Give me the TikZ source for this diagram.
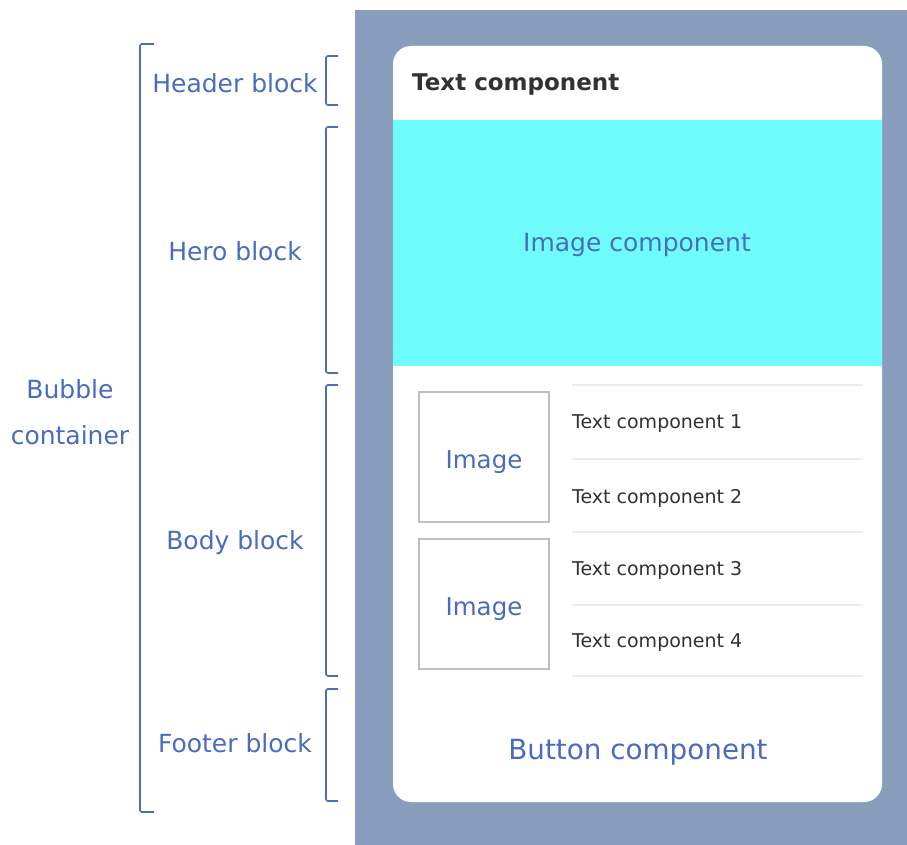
\documentclass[tikz,border=0pt]{standalone}
\usepackage{fontspec}
\setmainfont{DejaVu Sans}
\usetikzlibrary{positioning}
\definecolor{labelblue}{RGB}{74,108,188}
\definecolor{framegray}{RGB}{137,157,189}
\definecolor{herocyan}{RGB}{111,252,252}
\definecolor{boxgray}{RGB}{190,190,190}
\definecolor{rulegray}{RGB}{236,236,236}
\definecolor{textgray}{RGB}{50,50,50}

\begin{document}
\begin{tikzpicture}[x=1pt,y=-1pt,
  lbl/.style={text=labelblue,font=\fontsize{25}{30}\selectfont,inner sep=0pt},
  brk/.style={draw=labelblue,line width=1.6pt,rounded corners=2pt},
  row/.style={text=textgray,font=\fontsize{19}{22}\selectfont,anchor=west,inner sep=0pt},
  imgbox/.style={draw=boxgray,line width=1.8pt,minimum size=130pt,inner sep=0pt},
  imgtxt/.style={text=labelblue,font=\fontsize{24.5}{28}\selectfont,inner sep=0pt}]
\useasboundingbox (0,0) rectangle (907,845);

% phone frame and bubble
\fill[framegray] (355,10) rectangle (907,845);
\fill[white,rounded corners=18pt] (393,46) rectangle (882,802);
\fill[herocyan] (393,120) rectangle (882,366);

% header and hero
\node[anchor=west,inner sep=0pt,text=textgray,font=\bfseries\fontsize{23}{26}\selectfont] (head) at (412,85) {Text component};
\node[lbl] (hero) at (637,245) {Image component};

% body
\node[imgbox] (img1) at (484,457) {};
\node[imgbox] (img2) at (484,604) {};
\node[imgtxt] (img1txt) at ([yshift=-5pt]img1.center) {Image};
\node[imgtxt] (img2txt) at ([yshift=-5pt]img2.center) {Image};
\foreach \y in {385,459,532,605,676}
  \draw[rulegray,line width=1.2pt] (572,\y) -- (863,\y);
\node[row] (txt1) at (572,424) {Text component 1};
\node[row] (txt2) at (572,498) {Text component 2};
\node[row] (txt3) at (572,570) {Text component 3};
\node[row] (txt4) at (572,643) {Text component 4};

% footer
\node[lbl,font=\fontsize{27.8}{32}\selectfont] (button) at (638,752) {Button component};

% brackets and block names
\draw[brk] (154,44) -- (140,44) -- (140,812) -- (154,812);
\foreach \t/\b in {56/105,127/373,385/676,689/801}
  \draw[brk] (338,\t) -- (326,\t) -- (326,\b) -- (338,\b);
\node[lbl] (headerblk) at (235,83) {Header block};
\node[lbl] (heroblk) at (235,251) {Hero block};
\node[lbl] (bodyblk) at (235,543) {Body block};
\node[lbl] (footerblk) at (235,743) {Footer block};
\node[lbl,align=center,font=\fontsize{25}{46}\selectfont] (bubble) at (70,412) {Bubble\\container};
\end{tikzpicture}
\end{document}
